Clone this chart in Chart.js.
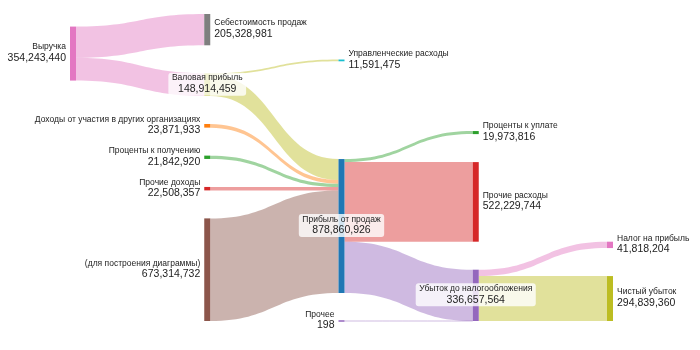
<!DOCTYPE html>
<html>
<head>
<meta charset="utf-8">
<script src="https://cdn.jsdelivr.net/npm/chart.js@4.4.1/dist/chart.umd.min.js"></script>
<style>
  html, body { margin: 0; background: #fff; }
  #wrap { width: 700px; height: 350px; }
</style>
</head>
<body>
<div id="wrap"><canvas id="chart"></canvas></div>
<script>
'use strict';

// nodes of the diagram
var nodeNames = [
    'Выручка',
    'Себестоимость продаж',
    'Валовая прибыль',
    'Управленческие расходы',
    'Доходы от участия в других организациях',
    'Проценты к получению',
    'Прочие доходы',
    '(для построения диаграммы)',
    'Прибыль от продаж',
    'Проценты к уплате',
    'Прочие расходы',
    'Прочее',
    'Убыток до налогообложения',
    'Налог на прибыль',
    'Чистый убыток'
];

// flows: from -> to, value
var linkFrom = [
    'Выручка', 'Выручка',
    'Валовая прибыль', 'Валовая прибыль',
    'Доходы от участия в других организациях', 'Проценты к получению', 'Прочие доходы', '(для построения диаграммы)',
    'Прибыль от продаж', 'Прибыль от продаж', 'Прибыль от продаж',
    'Прочее',
    'Убыток до налогообложения', 'Убыток до налогообложения'
];
var linkTo = [
    'Себестоимость продаж', 'Валовая прибыль',
    'Управленческие расходы', 'Прибыль от продаж',
    'Прибыль от продаж', 'Прибыль от продаж', 'Прибыль от продаж', 'Прибыль от продаж',
    'Проценты к уплате', 'Прочие расходы', 'Убыток до налогообложения',
    'Убыток до налогообложения',
    'Налог на прибыль', 'Чистый убыток'
];
var linkValues = [
    205328981, 148914459,
    11591475, 137322984,
    23871933, 21842920, 22508357, 673314732,
    19973816, 522229744, 336657366,
    198,
    41818204, 294839360
];

// styling
var nodeColors = {
    'Выручка': '#e377c2',
    'Себестоимость продаж': '#7f7f7f',
    'Валовая прибыль': '#bcbd22',
    'Управленческие расходы': '#17becf',
    'Доходы от участия в других организациях': '#ff7f0e',
    'Проценты к получению': '#2ca02c',
    'Прочие доходы': '#d62728',
    '(для построения диаграммы)': '#8c564b',
    'Прибыль от продаж': '#1f77b4',
    'Проценты к уплате': '#2ca02c',
    'Прочие расходы': '#d62728',
    'Прочее': '#9467bd',
    'Убыток до налогообложения': '#9467bd',
    'Налог на прибыль': '#e377c2',
    'Чистый убыток': '#bcbd22'
};
// outgoing flows of these nodes take the colour of their target
var colorByTarget = ['Прибыль от продаж', 'Убыток до налогообложения', 'Прочее'];

var nodeWidth = 6;
var padRatio = 28 / 307;
var iterations = 32;
var fontFamily = '"Liberation Sans", Arial, sans-serif';

// ---- sankey layout (d3-sankey style), in value units ----
var nodes = nodeNames.map(function (name, i) {
    return { name: name, index: i, sourceLinks: [], targetLinks: [] };
});
var links = linkFrom.map(function (f, i) {
    return {
        index: i,
        source: nodes[nodeNames.indexOf(f)],
        target: nodes[nodeNames.indexOf(linkTo[i])],
        value: linkValues[i]
    };
});
links.forEach(function (l) {
    l.source.sourceLinks.push(l);
    l.target.targetLinks.push(l);
});
function sum(arr) { return arr.reduce(function (a, b) { return a + b; }, 0); }
nodes.forEach(function (n) {
    n.value = Math.max(sum(n.sourceLinks.map(function (l) { return l.value; })),
                       sum(n.targetLinks.map(function (l) { return l.value; })));
});

function walk(prop, key, next) {
    var current = nodes.slice();
    var x = 0;
    while (current.length) {
        var nxt = [];
        current.forEach(function (node) {
            node[prop] = x;
            node[key].forEach(function (l) {
                if (nxt.indexOf(l[next]) < 0) nxt.push(l[next]);
            });
        });
        x++;
        current = nxt;
    }
}
walk('depth', 'sourceLinks', 'target');
walk('height', 'targetLinks', 'source');
var maxDepth = Math.max.apply(null, nodes.map(function (n) { return n.depth; }));
nodes.forEach(function (n) {
    n.layer = n.sourceLinks.length ? maxDepth - n.height : n.depth;
});
var columns = [];
nodes.forEach(function (n) {
    (columns[n.layer] = columns[n.layer] || []).push(n);
});

var extent = 0;
columns.forEach(function (c) {
    var s = sum(c.map(function (n) { return n.value; }));
    extent = Math.max(extent, s / (1 - (c.length - 1) * padRatio));
});
var py = padRatio * extent;
var Y0 = 0, Y1 = extent;

function ascendingBreadth(a, b) { return a.y0 - b.y0; }
function ascendingSourceBreadth(a, b) { return ascendingBreadth(a.source, b.source) || a.index - b.index; }
function ascendingTargetBreadth(a, b) { return ascendingBreadth(a.target, b.target) || a.index - b.index; }

function reorderLinks(col) {
    col.forEach(function (n) {
        n.sourceLinks.sort(ascendingTargetBreadth);
        n.targetLinks.sort(ascendingSourceBreadth);
    });
}
function reorderNodeLinks(node) {
    node.targetLinks.forEach(function (l) { l.source.sourceLinks.sort(ascendingTargetBreadth); });
    node.sourceLinks.forEach(function (l) { l.target.targetLinks.sort(ascendingSourceBreadth); });
}
function sourceTop(source, target) {
    var y = target.y0 - (target.targetLinks.length - 1) * py / 2;
    for (var i = 0; i < target.targetLinks.length; i++) {
        var l = target.targetLinks[i];
        if (l.source === source) break;
        y += l.width + py;
    }
    for (var j = 0; j < source.sourceLinks.length; j++) {
        var k = source.sourceLinks[j];
        if (k.target === target) break;
        y -= k.width;
    }
    return y;
}
function targetTop(source, target) {
    var y = source.y0 - (source.sourceLinks.length - 1) * py / 2;
    for (var i = 0; i < source.sourceLinks.length; i++) {
        var l = source.sourceLinks[i];
        if (l.target === target) break;
        y += l.width + py;
    }
    for (var j = 0; j < target.targetLinks.length; j++) {
        var k = target.targetLinks[j];
        if (k.source === source) break;
        y -= k.width;
    }
    return y;
}
function collideDown(col, y, i, alpha) {
    for (; i < col.length; ++i) {
        var n = col[i];
        var dy = (y - n.y0) * alpha;
        if (dy > 1e-6) { n.y0 += dy; n.y1 += dy; }
        y = n.y1 + py;
    }
}
function collideUp(col, y, i, alpha) {
    for (; i >= 0; --i) {
        var n = col[i];
        var dy = (n.y1 - y) * alpha;
        if (dy > 1e-6) { n.y0 -= dy; n.y1 -= dy; }
        y = n.y0 - py;
    }
}
function resolveCollisions(col, alpha) {
    var i = col.length >> 1;
    var subject = col[i];
    collideUp(col, subject.y0 - py, i - 1, alpha);
    collideDown(col, subject.y1 + py, i + 1, alpha);
    collideUp(col, Y1, col.length - 1, alpha);
    collideDown(col, Y0, 0, alpha);
}

columns.forEach(function (col) {
    var y = Y0;
    col.forEach(function (n) {
        n.y0 = y;
        n.y1 = y + n.value;
        y = n.y1 + py;
        n.sourceLinks.forEach(function (l) { l.width = l.value; });
    });
    y = (Y1 - y + py) / (col.length + 1);
    col.forEach(function (n, i) {
        n.y0 += y * (i + 1);
        n.y1 += y * (i + 1);
    });
    reorderLinks(col);
});

for (var it = 0; it < iterations; ++it) {
    var alpha = Math.pow(0.99, it);
    var beta = Math.max(1 - alpha, (it + 1) / iterations);
    // right to left
    for (var c = columns.length - 2; c >= 0; --c) {
        columns[c].forEach(function (source) {
            var y = 0, w = 0;
            source.sourceLinks.forEach(function (l) {
                var v = l.value * (l.target.layer - source.layer);
                y += sourceTop(source, l.target) * v;
                w += v;
            });
            if (!(w > 0)) return;
            var dy = (y / w - source.y0) * alpha;
            source.y0 += dy; source.y1 += dy;
            reorderNodeLinks(source);
        });
        columns[c].sort(ascendingBreadth);
        resolveCollisions(columns[c], beta);
    }
    // left to right
    for (var c2 = 1; c2 < columns.length; ++c2) {
        columns[c2].forEach(function (target) {
            var y = 0, w = 0;
            target.targetLinks.forEach(function (l) {
                var v = l.value * (target.layer - l.source.layer);
                y += targetTop(l.source, target) * v;
                w += v;
            });
            if (!(w > 0)) return;
            var dy = (y / w - target.y0) * alpha;
            target.y0 += dy; target.y1 += dy;
            reorderNodeLinks(target);
        });
        columns[c2].sort(ascendingBreadth);
        resolveCollisions(columns[c2], beta);
    }
}

nodes.forEach(function (n) {
    var a = n.y0, b = n.y0;
    n.sourceLinks.forEach(function (l) { l.y0 = a; a += l.width; });
    n.targetLinks.forEach(function (l) { l.y1 = b; b += l.width; });
});

// ---- drawing through the chart scales ----
function hexToRgba(hex, a) {
    var v = parseInt(hex.slice(1), 16);
    return 'rgba(' + (v >> 16 & 255) + ',' + (v >> 8 & 255) + ',' + (v & 255) + ',' + a + ')';
}
function fmt(v) { return v.toLocaleString('en-US'); }

var sankeyPlugin = {
    id: 'sankey',
    afterDatasetsDraw: function (chart) {
        var ctx = chart.ctx;
        var xs = chart.scales.x, ys = chart.scales.y;
        ctx.save();

        links.forEach(function (l) {
            var x0 = xs.getPixelForValue(l.source.layer) + nodeWidth;
            var x1 = xs.getPixelForValue(l.target.layer);
            var a0 = ys.getPixelForValue(l.y0), b0 = ys.getPixelForValue(l.y0 + l.width);
            var a1 = ys.getPixelForValue(l.y1), b1 = ys.getPixelForValue(l.y1 + l.width);
            var xm = (x0 + x1) / 2;
            var col = colorByTarget.indexOf(l.source.name) >= 0 ? nodeColors[l.target.name] : nodeColors[l.source.name];
            ctx.fillStyle = hexToRgba(col, 0.45);
            if (b0 - a0 < 1) {
                var m0 = (a0 + b0) / 2, m1 = (a1 + b1) / 2;
                ctx.beginPath();
                ctx.moveTo(x0, m0);
                ctx.bezierCurveTo(xm, m0, xm, m1, x1, m1);
                ctx.strokeStyle = hexToRgba(col, 0.45);
                ctx.lineWidth = 1;
                ctx.stroke();
                return;
            }
            ctx.beginPath();
            ctx.moveTo(x0, a0);
            ctx.bezierCurveTo(xm, a0, xm, a1, x1, a1);
            ctx.lineTo(x1, b1);
            ctx.bezierCurveTo(xm, b1, xm, b0, x0, b0);
            ctx.closePath();
            ctx.fill();
        });

        nodes.forEach(function (n) {
            var x = xs.getPixelForValue(n.layer);
            var t = ys.getPixelForValue(n.y0), b = ys.getPixelForValue(n.y1);
            if (b - t < 1.5) { var m = (t + b) / 2; t = m - 0.75; b = m + 0.75; }
            ctx.fillStyle = nodeColors[n.name];
            ctx.fillRect(x, t, nodeWidth, b - t);
        });

        ctx.textBaseline = 'middle';
        nodes.forEach(function (n) {
            var x = xs.getPixelForValue(n.layer);
            var cy = (ys.getPixelForValue(n.y0) + ys.getPixelForValue(n.y1)) / 2;
            var nameFont = '8.5px ' + fontFamily;
            var valFont = '10.5px ' + fontFamily;
            var tx, align;
            if (n.sourceLinks.length && n.targetLinks.length) {
                tx = x + nodeWidth / 2;
                align = 'center';
                ctx.font = nameFont;
                var w1 = ctx.measureText(n.name).width;
                ctx.font = valFont;
                var w2 = ctx.measureText(fmt(n.value)).width;
                var bw = Math.max(w1, w2) + 7;
                ctx.fillStyle = 'rgba(255,255,255,0.8)';
                ctx.beginPath();
                ctx.roundRect(tx - bw / 2, cy - 12, bw, 23, 3);
                ctx.fill();
            } else if (!n.targetLinks.length) {
                tx = x - 4;
                align = 'right';
            } else {
                tx = x + nodeWidth + 4;
                align = 'left';
            }
            ctx.textAlign = align;
            ctx.fillStyle = '#222';
            ctx.font = nameFont;
            ctx.fillText(n.name, tx, cy - 6.5);
            ctx.font = valFont;
            ctx.fillText(fmt(n.value), tx, cy + 4.5);
        });
        ctx.restore();
    }
};

var ctx = document.getElementById('chart').getContext('2d');
var myChart = new Chart(ctx, {
    type: 'scatter',
    data: { datasets: [{ data: [], pointRadius: 0 }] },
    options: {
        responsive: true,
        maintainAspectRatio: false,
        animation: false,
        layout: { padding: { left: 70, right: 93, top: 14, bottom: 29 } },
        scales: {
            x: { type: 'linear', min: 0, max: maxDepth, display: false },
            y: { type: 'linear', min: Y0, max: Y1, reverse: true, display: false }
        },
        plugins: { legend: { display: false }, tooltip: { enabled: false } }
    },
    plugins: [sankeyPlugin]
});
</script>
</body>
</html>
